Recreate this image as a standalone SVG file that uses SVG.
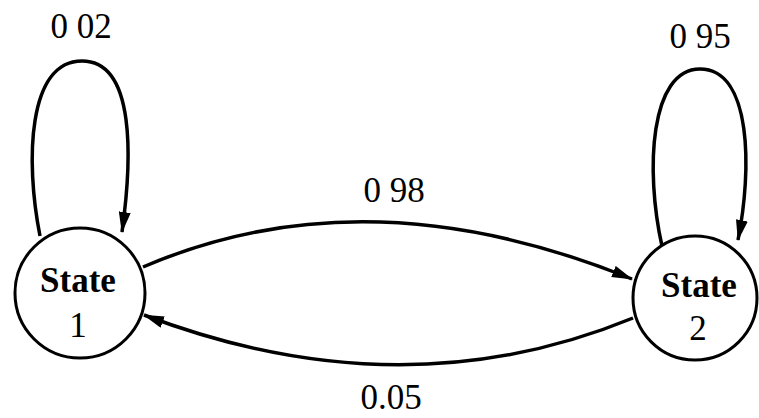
<svg xmlns="http://www.w3.org/2000/svg" width="759" height="418" viewBox="0 0 759 418">
<style>
.node{fill:#fff;stroke:#000;stroke-width:3}
.edge{fill:none;stroke:#000;stroke-width:3.5}
.nt{font-family:"Liberation Serif","Times New Roman",serif;font-size:35px;font-weight:bold;text-anchor:middle;fill:#000}
.nn{font-family:"Liberation Serif","Times New Roman",serif;font-size:35px;text-anchor:middle;fill:#000}
.lbl{font-family:"Liberation Serif","Times New Roman",serif;font-size:35px;text-anchor:middle;fill:#000}
</style>
<defs>
<marker id="ah" markerUnits="userSpaceOnUse" markerWidth="22" markerHeight="12" refX="20" refY="6" orient="auto">
<path d="M0,0 L21,6 L0,12 z" fill="#000"/>
</marker>
</defs>
<rect width="759" height="418" fill="#fff"/>
<g id="connectors">
<path class="edge" d="M 40 236 C 25 160, 28 61, 82 61 C 136 61, 132 160, 122 232" marker-end="url(#ah)"/>
<path class="edge" d="M 662 246 C 645 170, 650 69, 700 69 C 752 69, 752 170, 738 240" marker-end="url(#ah)"/>
<path class="edge" d="M 143 267 Q 366 171 632 279" marker-end="url(#ah)"/>
<path class="edge" d="M 633 318 Q 402 413 144 315" marker-end="url(#ah)"/>
</g>
<g id="labels">
<text class="lbl" x="81" y="38">0 02</text>
<text class="lbl" x="700" y="48">0 95</text>
<text class="lbl" x="394" y="202">0 98</text>
<text class="lbl" x="391" y="409">0.05</text>
</g>
<g id="state1">
<circle class="node" cx="80" cy="293" r="65"/>
<text class="nt" x="78" y="292">State</text>
<text class="nn" x="78" y="337">1</text>
</g>
<g id="state2">
<circle class="node" cx="695" cy="298" r="62"/>
<text class="nt" x="699" y="297">State</text>
<text class="nn" x="698" y="340">2</text>
</g>
</svg>
